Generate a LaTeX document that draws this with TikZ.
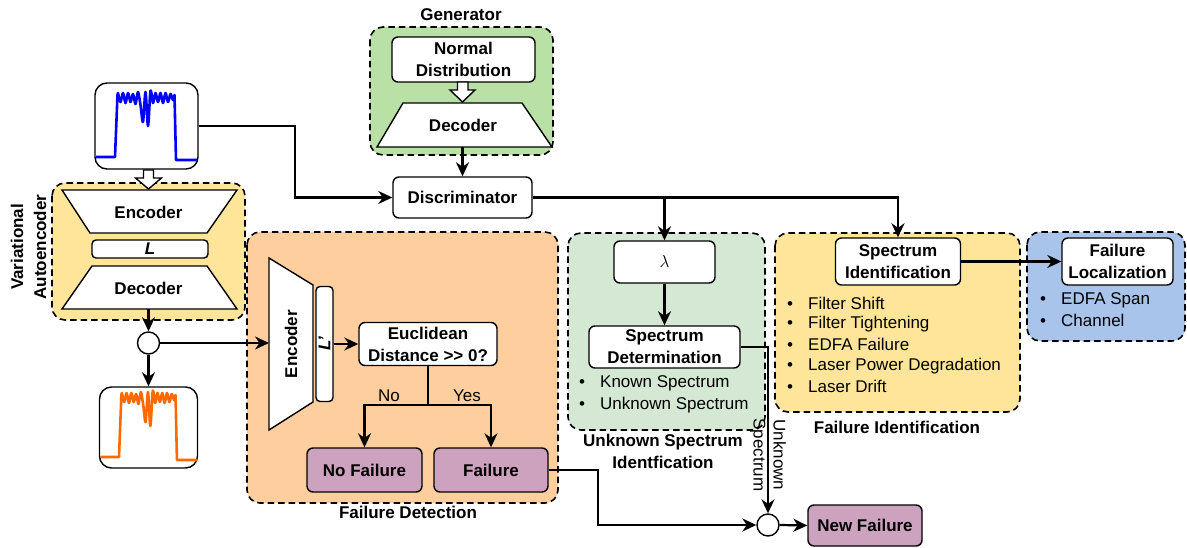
\documentclass[tikz,border=0pt]{standalone}
\usepackage{fontspec}
\setmainfont{Liberation Sans}
\usetikzlibrary{arrows.meta}

\definecolor{vaeyellow}{HTML}{FFE599}
\definecolor{fdorange}{HTML}{FFCE9F}
\definecolor{gengreen}{HTML}{B9E0A5}
\definecolor{usgreen}{HTML}{D5E8D4}
\definecolor{locblue}{HTML}{A9C4EB}
\definecolor{failpurple}{HTML}{CDA2BE}
\definecolor{specblue}{HTML}{0000FF}
\definecolor{specorange}{HTML}{FF6A00}

\newcommand\bulletitem[1]{\makebox[21pt][l]{\textbullet}#1}

% one spectrum trace, in the local frame of its 103 x 86 panel
\newcommand\spectrumtrace{%
  (1,74) -- (20,74) -- (22.5,12) -- plot[smooth, tension=0.5] coordinates {
    (23,10) (25.5,19) (28,10) (30.5,20) (33,10) (35.5,19) (38,11) (40.5,21)
    (43,9) (45.5,22) (48,39) (50.5,9) (53,43) (55.5,8) (58,20) (60.5,10)
    (63,19) (65.5,10) (68,20) (70.5,10) (73,19) (75.5,11) (78,17) (79.5,12)}
  -- (81,77) -- (102,77)}

\begin{document}
\begin{tikzpicture}[x=1pt, y=-1pt,
  every node/.style={font=\fontsize{17}{22}\selectfont, inner sep=0pt},
  box/.style={draw, line width=1.4pt, fill=white, rounded corners=6pt,
    align=center, font=\fontsize{17}{22}\selectfont\bfseries},
  panel/.style={draw, line width=1.4pt, fill=white, rounded corners=12pt},
  group/.style={draw, line width=1.6pt, dash pattern=on 6.5pt off 4pt, rounded corners=13pt},
  trapez/.style={draw, line width=1.4pt, fill=white, line join=miter},
  grouplabel/.style={font=\fontsize{17}{22}\selectfont\bfseries, align=center},
  item/.style={anchor=west},
  wire/.style={line width=2.2pt},
  conn/.style={line width=2.2pt, -{Stealth[length=14pt, width=13pt, inset=4.5pt]}},
  junction/.style={circle, draw, line width=1.4pt, fill=white, minimum size=22pt},
  hollow/.style={draw, line width=1.4pt, fill=white, line join=miter}
]
\useasboundingbox (0,0) rectangle (1187,548);

% ---------- group backgrounds ----------
\draw[group, fill=vaeyellow] (52,183) rectangle (245,320);
\draw[group, fill=gengreen] (370,27) rectangle (553,155);
\draw[group, fill=fdorange] (247,232) rectangle (558,503);
\draw[group, fill=usgreen] (568,233) rectangle (765,430);
\draw[group, fill=vaeyellow] (775,233) rectangle (1020,412);
\draw[group, fill=locblue] (1027,232) rectangle (1185,341);

% ---------- group labels ----------
\node[grouplabel] (genlabel) at (461,15) {Generator};
\node[grouplabel, rotate=90, font=\fontsize{17}{23}\selectfont\bfseries] (vaelabel) at (28.5,247) {Variational\\Autoencoder};
\node[grouplabel] (fdlabel) at (408,512) {Failure Detection};
\node[grouplabel, font=\fontsize{17}{22}\selectfont\bfseries] (uslabel) at (663,451) {Unknown Spectrum\\Identfication};
\node[grouplabel] (filabel) at (897,427) {Failure Identification};

% ---------- input and reconstructed spectra ----------
\node[panel, minimum width=103pt, minimum height=86pt] (blue) at (146.5,126) {};
\begin{scope}[shift={(95,83)}]
  \draw[specblue, line width=2.6pt, line join=round] \spectrumtrace;
\end{scope}
\node[panel, minimum width=98pt, minimum height=81pt] (orange) at (148.5,427.5) {};
\begin{scope}[shift={(100,383)}, xscale=0.95]
  \draw[specorange, line width=2.6pt, line join=round] \spectrumtrace;
\end{scope}

% hollow arrow into the autoencoder
\draw[hollow] (143.5,170) -- (153.5,170) -- (153.5,178) -- (161.5,178) -- (148.5,189)
  -- (135.5,178) -- (143.5,178) -- cycle;

% ---------- variational autoencoder ----------
\draw[trapez] (62,190) -- (237,190) -- (207,233) -- (90,233) -- cycle;
\node[font=\fontsize{17}{22}\selectfont\bfseries] (vaeenc) at (148.5,212) {Encoder};
\node[box, rounded corners=4pt, minimum width=116pt, minimum height=18pt,
  font=\fontsize{17}{22}\selectfont\bfseries\itshape] (vaelat) at (150,249) {L};
\draw[trapez] (92,266) -- (207,266) -- (237,309) -- (62,309) -- cycle;
\node[font=\fontsize{17}{22}\selectfont\bfseries] (vaedec) at (148.5,288) {Decoder};
\coordinate (vaeout) at (148.5,309);

\node[junction] (c1) at (148.5,343) {};

% ---------- generator ----------
\node[box, minimum width=143pt, minimum height=45pt] (normdist) at (463.5,59.5) {Normal\\Distribution};
\draw[hollow] (457.5,82) -- (468,82) -- (468,90) -- (475,90) -- (462.5,102)
  -- (450,90) -- (457.5,90) -- cycle;
\draw[trapez] (403,103) -- (522,103) -- (552,147) -- (377,147) -- cycle;
\node[font=\fontsize{17}{22}\selectfont\bfseries] (gendec) at (463,125) {Decoder};
\coordinate (genout) at (462.5,147);

\node[box, minimum width=139pt, minimum height=41pt] (disc) at (462.5,197.5) {Discriminator};
\coordinate (bend1) at (295,160);

% ---------- failure detection ----------
\draw[trapez] (269,258) -- (313,285) -- (313,402) -- (269,430) -- cycle;
\node[rotate=90, font=\fontsize{17}{22}\selectfont\bfseries] (fdenc) at (291,344) {Encoder};
\coordinate (fdin) at (269,343);
\node[box, rounded corners=4pt, minimum width=17pt, minimum height=115pt] (lpbox) at (324.5,344) {};
\node[rotate=90, font=\fontsize{17}{22}\selectfont\bfseries\itshape] (lptext) at (324.5,344) {L'};
\node[box, minimum width=138pt, minimum height=43pt] (euclid) at (428,344) {Euclidean\\Distance >{}> 0?};
\coordinate (split) at (428,405);
\node[box, fill=failpurple, minimum width=115pt, minimum height=44pt] (nofail) at (364.5,470) {No Failure};
\node[box, fill=failpurple, minimum width=114pt, minimum height=44pt] (fail) at (491,470) {Failure};
\node (nolabel) at (389,396) {No};
\node (yeslabel) at (467,396) {Yes};
\coordinate (bend2) at (598,500);

% ---------- unknown spectrum identification ----------
\node[box, font=\fontsize{17}{22}\selectfont, minimum width=101pt, minimum height=42pt] (lambda) at (664.5,262) {$\lambda$};
\node[box, minimum width=151pt, minimum height=42pt] (specdet) at (664.5,347) {Spectrum\\Determination};
\node[item] (us1) at (579,383) {\bulletitem{Known Spectrum}};
\node[item] (us2) at (579,405) {\bulletitem{Unknown Spectrum}};

% ---------- failure identification ----------
\node[box, minimum width=125pt, minimum height=47pt] (specid) at (898,261.5) {Spectrum\\Identification};
\node[item] (fi1) at (787,303) {\bulletitem{Filter Shift}};
\node[item] (fi2) at (787,324) {\bulletitem{Filter Tightening}};
\node[item] (fi3) at (787,344) {\bulletitem{EDFA Failure}};
\node[item] (fi4) at (787,366) {\bulletitem{Laser Power Degradation}};
\node[item] (fi5) at (787,386) {\bulletitem{Laser Drift}};

% ---------- failure localization ----------
\node[box, minimum width=111pt, minimum height=47pt] (failloc) at (1117.5,261.5) {Failure\\Localization};
\node[item] (fl1) at (1040,300) {\bulletitem{EDFA Span}};
\node[item] (fl2) at (1040,320) {\bulletitem{Channel}};

% ---------- new failure ----------
\node[junction] (c2) at (768,525) {};
\node[box, fill=failpurple, minimum width=114pt, minimum height=41pt] (newfail) at (865,525.5) {New Failure};
\node[rotate=-90, align=center, font=\fontsize{17}{20}\selectfont] (uslab) at (768,455) {Unknown\\Spectrum};

% ---------- connectors ----------
\draw[conn] (blue.east) -| (bend1) |- (disc.west);
\draw[conn] (genout) -- (disc.north);
\draw[conn] (disc.east) -| (specid.north);
\draw[conn] (disc.east -| lambda.north) -- (lambda.north);
\draw[conn] (vaeout) -- (c1.north);
\draw[conn] (c1.south) -- (orange.north);
\draw[conn] (c1.east) -- (fdin);
\draw[conn] (lpbox.east) -- (euclid.west);
\draw[wire] (euclid.south) -- (split);
\draw[conn] (split) -| (nofail.north);
\draw[conn] (split) -| (fail.north);
\draw[conn] (fail.east) -| (bend2) |- (c2.west);
\draw[conn] (lambda.south) -- (specdet.north);
\draw[conn] (specdet.east) -| (c2.north);
\draw[conn] (c2.east) -- (newfail.west);
\draw[conn] (specid.east) -- (failloc.west);
\end{tikzpicture}
\end{document}
